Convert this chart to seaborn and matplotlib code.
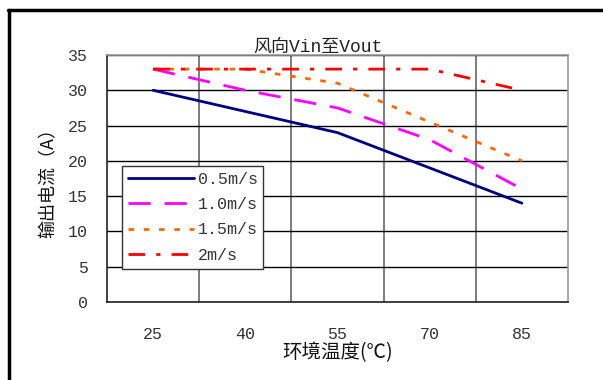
import pandas as pd
import matplotlib
matplotlib.use("Agg")
import matplotlib.pyplot as plt
import seaborn as sns
from matplotlib.lines import Line2D

temps = [25, 40, 55, 70, 85]
speeds = ['0.5m/s', '1.0m/s', '1.5m/s', '2m/s']
current_05 = [30, 27, 24, 19, 14]
current_10 = [33, 30, 27.5, 23, 16]
current_15 = [33, 33, 31, 25.5, 20]
current_20 = [33, 33, 33, 33, 30]
yticks = [0, 5, 10, 15, 20, 25, 30, 35]

colors = {'0.5m/s': '#000080', '1.0m/s': '#FF00FF', '1.5m/s': '#FF6600', '2m/s': '#FF0000'}
dashes = {'0.5m/s': '', '1.0m/s': (8, 5), '1.5m/s': (2, 3.5), '2m/s': (6, 4, 1.5, 4)}

rows = []
for name, vals in zip(speeds, [current_05, current_10, current_15, current_20]):
    for i, v in enumerate(vals):
        rows.append({'pos': i, 'temp': temps[i], 'speed': name, 'current': v})
df = pd.DataFrame(rows)

sns.set_style('white')
plt.rcParams['font.family'] = ['Noto Sans CJK SC', 'DejaVu Sans']
mono = ['Liberation Mono', 'Noto Sans CJK SC', 'DejaVu Sans']
txt = '#333333'

fig = plt.figure(figsize=(6.03, 3.8), dpi=100)
ax = fig.add_axes([107 / 603, 1 - 302 / 380, (568 - 107) / 603, (302 - 55) / 380])

sns.lineplot(data=df, x='pos', y='current', hue='speed', style='speed',
             palette=colors, dashes=dashes, linewidth=2, ax=ax, legend=False,
             zorder=3)

ax.set_xlim(-0.5, 4.5)
ax.set_ylim(0, 35)
ax.set_xticks(range(len(temps)))
ax.set_xticklabels([str(t) for t in temps], family=mono, fontsize=12, color=txt)
ax.set_xticks([0.5, 1.5, 2.5, 3.5], minor=True)
ax.set_yticks(yticks)
ax.set_yticklabels([str(v) for v in yticks], family=mono, fontsize=12, color=txt)
ax.tick_params(axis='x', which='both', length=0, pad=18)
ax.tick_params(axis='y', length=0, pad=14)

ax.grid(axis='y', which='major', color='black', linewidth=1)
ax.grid(axis='x', which='minor', color='#666666', linewidth=1.2)
ax.grid(axis='x', which='major', visible=False)
ax.set_axisbelow(True)
for s in ax.spines.values():
    s.set_color('#999999')
    s.set_linewidth(1.2)
ax.spines['left'].set_color('#222222')
ax.spines['bottom'].set_color('#222222')

ax.set_xlabel('环境温度(℃)', fontsize=14, labelpad=0, color='#111111')
ax.set_ylabel('输出电流（A）', fontsize=13, labelpad=7, color='#111111')
ax.set_title('风向Vin至Vout', family=mono, fontsize=13, pad=2, color='#222222',
             x=(318 - 107) / 461)

handles = [Line2D([0], [0], color=colors[s], linewidth=2,
                  linestyle=(0, dashes[s]) if dashes[s] else '-') for s in speeds]
leg = ax.legend(handles, speeds, loc='lower left', bbox_to_anchor=(0.032, 0.135),
                frameon=True, fancybox=False, framealpha=1, edgecolor='#333333',
                prop={'family': mono, 'size': 12}, handlelength=4.0, handletextpad=0.2,
                labelspacing=0.62, borderpad=0.35, borderaxespad=0)
leg.get_frame().set_linewidth(1)
for t in leg.get_texts():
    t.set_color(txt)

# outer border (left and top)
fig.add_artist(Line2D([9 / 603, 9 / 603], [0, 1 - 10 / 380], transform=fig.transFigure,
                      color='black', linewidth=2.5))
fig.add_artist(Line2D([8 / 603, 1], [1 - 10 / 380, 1 - 10 / 380], transform=fig.transFigure,
                      color='black', linewidth=2.5))

fig.savefig('out.png', dpi=100)
